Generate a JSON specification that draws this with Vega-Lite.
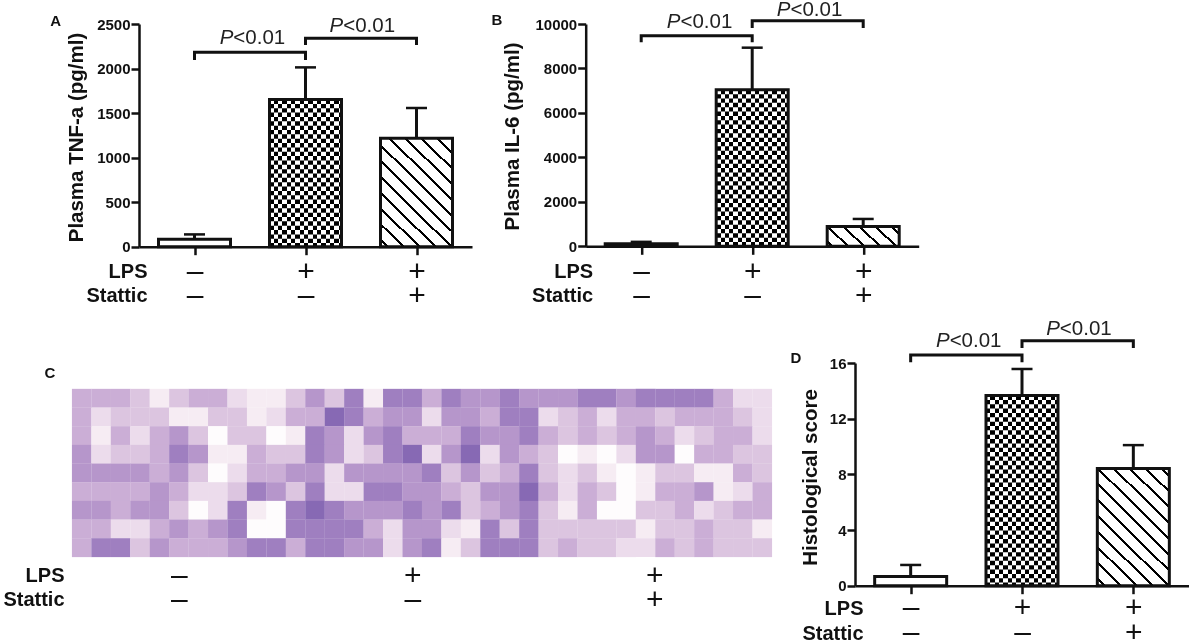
{"$schema":"https://vega.github.io/schema/vega-lite/v6.json","padding":{"left":2,"top":0,"right":0,"bottom":0},"background":"white",
"config":{"view":{"stroke":null},"font":"Liberation Sans",
"axis":{"grid":false,"labelFont":"Liberation Sans","titleFont":"Liberation Sans","labelColor":"#111","titleColor":"#111","domainColor":"#111","tickColor":"#111","domainWidth":2.5,"tickWidth":2.5,"tickSize":8}},
"vconcat":[
{"hconcat":[
{"width":333,"height":222.7,"data":{"values":[{"g":1,"v":84,"e":138},{"g":2,"v":1652,"e":2013},{"g":3,"v":1218,"e":1557}]},
"encoding":{"x":{"field":"g","type":"quantitative","scale":{"domain":[0.5,3.5],"nice":false,"padding":0},"axis":{"values":[1,2,3],"title":["LPS","Stattic"],"titleFontSize":20,"titleFontWeight":"bold","titleAlign":"right","titleBaseline":"alphabetic","titleLineHeight":24,"titleX":8,"titleY":31,"labelExpr":"datum.value==1?['–','–']:datum.value==2?['+','–']:['+','+']","labelFontSize":30,"labelLineHeight":24,"labelBaseline":"alphabetic","labelPadding":26,"labelOverlap":false,"labelFlush":false}},
"y":{"field":"v","type":"quantitative","scale":{"domain":[0,2500],"nice":false},"axis":{"values":[0,500,1000,1500,2000,2500],"format":"d","title":"Plasma TNF-a (pg/ml)","titleFontSize":20.5,"titleFontWeight":"bold","titleX":-53,"titleY":113,"labelFontSize":15,"labelFontWeight":"bold","labelPadding":1}}},
"layer":[
{"mark":{"type":"rule","strokeWidth":3,"color":"#111"},"encoding":{"y":{"field":"v","type":"quantitative"},"y2":{"field":"e"}}},
{"mark":{"type":"tick","orient":"horizontal","size":21,"thickness":2.5,"color":"#111","opacity":1},"encoding":{"y":{"field":"e","type":"quantitative"}}},
{"mark":{"type":"bar","orient":"vertical","width":72,"fill":"white"}},
{"transform":[{"filter":"datum.g==2"}],"mark":{"type":"rule","strokeWidth":72,"color":"#000","strokeDash":[4.35,4.35]},"encoding":{"y2":{"datum":0}}},
{"transform":[{"filter":"datum.g==2"}],"mark":{"type":"bar","orient":"vertical","width":72,"blend":"difference","fill":{"gradient":"linear","x1":0,"y1":0,"x2":1,"y2":0,"stops":[{"offset":0,"color":"#fff"},{"offset":0.06,"color":"#fff"},{"offset":0.06,"color":"#000"},{"offset":0.12,"color":"#000"},{"offset":0.12,"color":"#fff"},{"offset":0.18,"color":"#fff"},{"offset":0.18,"color":"#000"},{"offset":0.24,"color":"#000"},{"offset":0.24,"color":"#fff"},{"offset":0.3,"color":"#fff"},{"offset":0.3,"color":"#000"},{"offset":0.36,"color":"#000"},{"offset":0.36,"color":"#fff"},{"offset":0.42,"color":"#fff"},{"offset":0.42,"color":"#000"},{"offset":0.48,"color":"#000"},{"offset":0.48,"color":"#fff"},{"offset":0.54,"color":"#fff"},{"offset":0.54,"color":"#000"},{"offset":0.6,"color":"#000"},{"offset":0.6,"color":"#fff"},{"offset":0.66,"color":"#fff"},{"offset":0.66,"color":"#000"},{"offset":0.72,"color":"#000"},{"offset":0.72,"color":"#fff"},{"offset":0.78,"color":"#fff"},{"offset":0.78,"color":"#000"},{"offset":0.84,"color":"#000"},{"offset":0.84,"color":"#fff"},{"offset":0.9,"color":"#fff"},{"offset":0.9,"color":"#000"},{"offset":0.96,"color":"#000"},{"offset":0.96,"color":"#fff"},{"offset":1,"color":"#fff"}]}}},
{"transform":[{"filter":"datum.g==3"}],"mark":{"type":"bar","orient":"vertical","width":72,"fill":{"gradient":"linear","x1":0,"y1":1,"x2":0.7581,"y2":-0.158,"stops":[{"offset":0.03,"color":"#fff"},{"offset":0.03,"color":"#000"},{"offset":0.0465,"color":"#000"},{"offset":0.0465,"color":"#fff"},{"offset":0.1179,"color":"#fff"},{"offset":0.1179,"color":"#000"},{"offset":0.1344,"color":"#000"},{"offset":0.1344,"color":"#fff"},{"offset":0.2058,"color":"#fff"},{"offset":0.2058,"color":"#000"},{"offset":0.2223,"color":"#000"},{"offset":0.2223,"color":"#fff"},{"offset":0.2937,"color":"#fff"},{"offset":0.2937,"color":"#000"},{"offset":0.3102,"color":"#000"},{"offset":0.3102,"color":"#fff"},{"offset":0.3816,"color":"#fff"},{"offset":0.3816,"color":"#000"},{"offset":0.3981,"color":"#000"},{"offset":0.3981,"color":"#fff"},{"offset":0.4695,"color":"#fff"},{"offset":0.4695,"color":"#000"},{"offset":0.486,"color":"#000"},{"offset":0.486,"color":"#fff"},{"offset":0.5574,"color":"#fff"},{"offset":0.5574,"color":"#000"},{"offset":0.5739,"color":"#000"},{"offset":0.5739,"color":"#fff"},{"offset":0.6453,"color":"#fff"},{"offset":0.6453,"color":"#000"},{"offset":0.6618,"color":"#000"},{"offset":0.6618,"color":"#fff"},{"offset":0.7332,"color":"#fff"},{"offset":0.7332,"color":"#000"},{"offset":0.7497,"color":"#000"},{"offset":0.7497,"color":"#fff"},{"offset":0.8211,"color":"#fff"},{"offset":0.8211,"color":"#000"},{"offset":0.8376,"color":"#000"},{"offset":0.8376,"color":"#fff"},{"offset":0.909,"color":"#fff"},{"offset":0.909,"color":"#000"},{"offset":0.9255,"color":"#000"},{"offset":0.9255,"color":"#fff"}]}}},
{"mark":{"type":"bar","orient":"vertical","width":72,"fillOpacity":0,"stroke":"#111","strokeWidth":3}},
{"data":{"values":[{"b":"a","i":1,"x":1,"y":2096},{"b":"a","i":2,"x":1,"y":2182},{"b":"a","i":3,"x":2,"y":2182},{"b":"a","i":4,"x":2,"y":2096},{"b":"c","i":1,"x":2,"y":2264},{"b":"c","i":2,"x":2,"y":2339},{"b":"c","i":3,"x":3,"y":2339},{"b":"c","i":4,"x":3,"y":2264}]},"mark":{"type":"line","color":"#111","strokeWidth":3},"encoding":{"x":{"field":"x","type":"quantitative"},"y":{"field":"y","type":"quantitative"},"detail":{"field":"b"},"order":{"field":"i"}}},
{"data":{"values":[{"x":1.35,"y":2275,"t":"<0.01","p":"P"},{"x":2.34,"y":2406,"t":"<0.01","p":"P"}]},"mark":{"type":"text","align":"left","baseline":"alphabetic","fontSize":20.5,"color":"#222","font":"Liberation Sans"},"encoding":{"x":{"field":"x","type":"quantitative"},"y":{"field":"y","type":"quantitative"},"text":{"field":"t"}}},
{"data":{"values":[{"x":1.35,"y":2275,"t":"<0.01","p":"P"},{"x":2.34,"y":2406,"t":"<0.01","p":"P"}]},"mark":{"type":"text","align":"right","baseline":"alphabetic","fontSize":20.5,"fontStyle":"italic","color":"#222","font":"Liberation Sans"},"encoding":{"x":{"field":"x","type":"quantitative"},"y":{"field":"y","type":"quantitative"},"text":{"field":"p"}}},
{"data":{"values":[{"x":-0.25,"y":2534,"t":"A"}]},"mark":{"type":"text","align":"center","baseline":"middle","fontSize":15,"fontWeight":"bold","color":"#111","font":"Liberation Sans"},"encoding":{"x":{"field":"x","type":"quantitative"},"y":{"field":"y","type":"quantitative"},"text":{"field":"t"}}}
]},
{"width":333,"height":222.3,"data":{"values":[{"g":1,"v":113,"e":200},{"g":2,"v":7039,"e":8935},{"g":3,"v":893,"e":1230}]},
"encoding":{"x":{"field":"g","type":"quantitative","scale":{"domain":[0.5,3.5],"nice":false,"padding":0},"axis":{"values":[1,2,3],"title":["LPS","Stattic"],"titleFontSize":20,"titleFontWeight":"bold","titleAlign":"right","titleBaseline":"alphabetic","titleLineHeight":24,"titleX":7,"titleY":31,"labelExpr":"datum.value==1?['–','–']:datum.value==2?['+','–']:['+','+']","labelFontSize":30,"labelLineHeight":24,"labelBaseline":"alphabetic","labelPadding":26,"labelOverlap":false,"labelFlush":false}},
"y":{"field":"v","type":"quantitative","scale":{"domain":[0,10000],"nice":false},"axis":{"values":[0,2000,4000,6000,8000,10000],"format":"d","title":"Plasma IL-6 (pg/ml)","titleFontSize":20.5,"titleFontWeight":"bold","titleX":-63,"titleY":112,"labelFontSize":15,"labelFontWeight":"bold","labelPadding":1}}},
"layer":[
{"mark":{"type":"rule","strokeWidth":3,"color":"#111"},"encoding":{"y":{"field":"v","type":"quantitative"},"y2":{"field":"e"}}},
{"mark":{"type":"tick","orient":"horizontal","size":21,"thickness":2.5,"color":"#111","opacity":1},"encoding":{"y":{"field":"e","type":"quantitative"}}},
{"mark":{"type":"bar","orient":"vertical","width":72,"fill":"white"}},
{"transform":[{"filter":"datum.g==2"}],"mark":{"type":"rule","strokeWidth":72,"color":"#000","strokeDash":[4.35,4.35]},"encoding":{"y2":{"datum":0}}},
{"transform":[{"filter":"datum.g==2"}],"mark":{"type":"bar","orient":"vertical","width":72,"blend":"difference","fill":{"gradient":"linear","x1":0,"y1":0,"x2":1,"y2":0,"stops":[{"offset":0,"color":"#fff"},{"offset":0.06,"color":"#fff"},{"offset":0.06,"color":"#000"},{"offset":0.12,"color":"#000"},{"offset":0.12,"color":"#fff"},{"offset":0.18,"color":"#fff"},{"offset":0.18,"color":"#000"},{"offset":0.24,"color":"#000"},{"offset":0.24,"color":"#fff"},{"offset":0.3,"color":"#fff"},{"offset":0.3,"color":"#000"},{"offset":0.36,"color":"#000"},{"offset":0.36,"color":"#fff"},{"offset":0.42,"color":"#fff"},{"offset":0.42,"color":"#000"},{"offset":0.48,"color":"#000"},{"offset":0.48,"color":"#fff"},{"offset":0.54,"color":"#fff"},{"offset":0.54,"color":"#000"},{"offset":0.6,"color":"#000"},{"offset":0.6,"color":"#fff"},{"offset":0.66,"color":"#fff"},{"offset":0.66,"color":"#000"},{"offset":0.72,"color":"#000"},{"offset":0.72,"color":"#fff"},{"offset":0.78,"color":"#fff"},{"offset":0.78,"color":"#000"},{"offset":0.84,"color":"#000"},{"offset":0.84,"color":"#fff"},{"offset":0.9,"color":"#fff"},{"offset":0.9,"color":"#000"},{"offset":0.96,"color":"#000"},{"offset":0.96,"color":"#fff"},{"offset":1,"color":"#fff"}]}}},
{"transform":[{"filter":"datum.g==3"}],"mark":{"type":"bar","orient":"vertical","width":72,"fill":{"gradient":"linear","x1":0,"y1":1,"x2":1.1916,"y2":0.6475,"stops":[{"offset":0.04,"color":"#fff"},{"offset":0.04,"color":"#000"},{"offset":0.0722,"color":"#000"},{"offset":0.0722,"color":"#fff"},{"offset":0.2115,"color":"#fff"},{"offset":0.2115,"color":"#000"},{"offset":0.2437,"color":"#000"},{"offset":0.2437,"color":"#fff"},{"offset":0.383,"color":"#fff"},{"offset":0.383,"color":"#000"},{"offset":0.4152,"color":"#000"},{"offset":0.4152,"color":"#fff"},{"offset":0.5545,"color":"#fff"},{"offset":0.5545,"color":"#000"},{"offset":0.5867,"color":"#000"},{"offset":0.5867,"color":"#fff"},{"offset":0.726,"color":"#fff"},{"offset":0.726,"color":"#000"},{"offset":0.7582,"color":"#000"},{"offset":0.7582,"color":"#fff"},{"offset":0.8975,"color":"#fff"},{"offset":0.8975,"color":"#000"},{"offset":0.9297,"color":"#000"},{"offset":0.9297,"color":"#fff"}]}}},
{"mark":{"type":"bar","orient":"vertical","width":72,"fillOpacity":0,"stroke":"#111","strokeWidth":3}},
{"data":{"values":[{"b":"a","i":1,"x":1,"y":9175},{"b":"a","i":2,"x":1,"y":9475},{"b":"a","i":3,"x":2,"y":9475},{"b":"a","i":4,"x":2,"y":9175},{"b":"c","i":1,"x":2,"y":9820},{"b":"c","i":2,"x":2,"y":10150},{"b":"c","i":3,"x":3,"y":10150},{"b":"c","i":4,"x":3,"y":9820}]},"mark":{"type":"line","color":"#111","strokeWidth":3},"encoding":{"x":{"field":"x","type":"quantitative"},"y":{"field":"y","type":"quantitative"},"detail":{"field":"b"},"order":{"field":"i"}}},
{"data":{"values":[{"x":1.354,"y":9805,"t":"<0.01","p":"P"},{"x":2.345,"y":10345,"t":"<0.01","p":"P"}]},"mark":{"type":"text","align":"left","baseline":"alphabetic","fontSize":20.5,"color":"#222","font":"Liberation Sans"},"encoding":{"x":{"field":"x","type":"quantitative"},"y":{"field":"y","type":"quantitative"},"text":{"field":"t"}}},
{"data":{"values":[{"x":1.354,"y":9805,"t":"<0.01","p":"P"},{"x":2.345,"y":10345,"t":"<0.01","p":"P"}]},"mark":{"type":"text","align":"right","baseline":"alphabetic","fontSize":20.5,"fontStyle":"italic","color":"#222","font":"Liberation Sans"},"encoding":{"x":{"field":"x","type":"quantitative"},"y":{"field":"y","type":"quantitative"},"text":{"field":"p"}}},
{"data":{"values":[{"x":-0.3,"y":10180,"t":"B"}]},"mark":{"type":"text","align":"center","baseline":"middle","fontSize":15,"fontWeight":"bold","color":"#111","font":"Liberation Sans"},"encoding":{"x":{"field":"x","type":"quantitative"},"y":{"field":"y","type":"quantitative"},"text":{"field":"t"}}}
]}
],"spacing":18.7},
{"hconcat":[
{"width":633,"height":194,
"layer":[
{"data":{"values":[
{"c":0,"r":0,"d":4},{"c":1,"r":0,"d":4},{"c":2,"r":0,"d":4},{"c":3,"r":0,"d":3},{"c":4,"r":0,"d":1},{"c":5,"r":0,"d":3},{"c":6,"r":0,"d":4},{"c":7,"r":0,"d":4},{"c":8,"r":0,"d":2},{"c":9,"r":0,"d":1},{"c":10,"r":0,"d":1},{"c":11,"r":0,"d":3},
{"c":0,"r":1,"d":4},{"c":1,"r":1,"d":2},{"c":2,"r":1,"d":3},{"c":3,"r":1,"d":3},{"c":4,"r":1,"d":3},{"c":5,"r":1,"d":1},{"c":6,"r":1,"d":1},{"c":7,"r":1,"d":3},{"c":8,"r":1,"d":3},{"c":9,"r":1,"d":1},{"c":10,"r":1,"d":2},{"c":11,"r":1,"d":4},
{"c":0,"r":2,"d":4},{"c":1,"r":2,"d":1},{"c":2,"r":2,"d":4},{"c":3,"r":2,"d":2},{"c":4,"r":2,"d":4},{"c":5,"r":2,"d":5},{"c":6,"r":2,"d":3},{"c":7,"r":2,"d":0},{"c":8,"r":2,"d":3},{"c":9,"r":2,"d":3},{"c":10,"r":2,"d":0},{"c":11,"r":2,"d":1},
{"c":0,"r":3,"d":5},{"c":1,"r":3,"d":2},{"c":2,"r":3,"d":3},{"c":3,"r":3,"d":3},{"c":4,"r":3,"d":4},{"c":5,"r":3,"d":6},{"c":6,"r":3,"d":5},{"c":7,"r":3,"d":1},{"c":8,"r":3,"d":1},{"c":9,"r":3,"d":4},{"c":10,"r":3,"d":3},{"c":11,"r":3,"d":3},
{"c":0,"r":4,"d":5},{"c":1,"r":4,"d":5},{"c":2,"r":4,"d":5},{"c":3,"r":4,"d":5},{"c":4,"r":4,"d":4},{"c":5,"r":4,"d":5},{"c":6,"r":4,"d":3},{"c":7,"r":4,"d":0},{"c":8,"r":4,"d":2},{"c":9,"r":4,"d":4},{"c":10,"r":4,"d":4},{"c":11,"r":4,"d":5},
{"c":0,"r":5,"d":4},{"c":1,"r":5,"d":4},{"c":2,"r":5,"d":4},{"c":3,"r":5,"d":4},{"c":4,"r":5,"d":5},{"c":5,"r":5,"d":4},{"c":6,"r":5,"d":2},{"c":7,"r":5,"d":2},{"c":8,"r":5,"d":3},{"c":9,"r":5,"d":6},{"c":10,"r":5,"d":5},{"c":11,"r":5,"d":3},
{"c":0,"r":6,"d":5},{"c":1,"r":6,"d":5},{"c":2,"r":6,"d":4},{"c":3,"r":6,"d":5},{"c":4,"r":6,"d":5},{"c":5,"r":6,"d":3},{"c":6,"r":6,"d":0},{"c":7,"r":6,"d":2},{"c":8,"r":6,"d":6},{"c":9,"r":6,"d":1},{"c":10,"r":6,"d":0},{"c":11,"r":6,"d":6},
{"c":0,"r":7,"d":4},{"c":1,"r":7,"d":4},{"c":2,"r":7,"d":2},{"c":3,"r":7,"d":2},{"c":4,"r":7,"d":4},{"c":5,"r":7,"d":5},{"c":6,"r":7,"d":4},{"c":7,"r":7,"d":5},{"c":8,"r":7,"d":6},{"c":9,"r":7,"d":0},{"c":10,"r":7,"d":0},{"c":11,"r":7,"d":6},
{"c":0,"r":8,"d":4},{"c":1,"r":8,"d":6},{"c":2,"r":8,"d":6},{"c":3,"r":8,"d":3},{"c":4,"r":8,"d":5},{"c":5,"r":8,"d":4},{"c":6,"r":8,"d":4},{"c":7,"r":8,"d":4},{"c":8,"r":8,"d":5},{"c":9,"r":8,"d":6},{"c":10,"r":8,"d":6},{"c":11,"r":8,"d":4},
{"c":12,"r":0,"d":5},{"c":13,"r":0,"d":3},{"c":14,"r":0,"d":6},{"c":15,"r":0,"d":1},{"c":16,"r":0,"d":6},{"c":17,"r":0,"d":6},{"c":18,"r":0,"d":4},{"c":19,"r":0,"d":6},{"c":20,"r":0,"d":5},{"c":21,"r":0,"d":5},{"c":22,"r":0,"d":6},{"c":23,"r":0,"d":5},
{"c":12,"r":1,"d":4},{"c":13,"r":1,"d":7},{"c":14,"r":1,"d":6},{"c":15,"r":1,"d":4},{"c":16,"r":1,"d":5},{"c":17,"r":1,"d":5},{"c":18,"r":1,"d":2},{"c":19,"r":1,"d":5},{"c":20,"r":1,"d":5},{"c":21,"r":1,"d":4},{"c":22,"r":1,"d":6},{"c":23,"r":1,"d":6},
{"c":12,"r":2,"d":6},{"c":13,"r":2,"d":5},{"c":14,"r":2,"d":2},{"c":15,"r":2,"d":5},{"c":16,"r":2,"d":6},{"c":17,"r":2,"d":4},{"c":18,"r":2,"d":4},{"c":19,"r":2,"d":4},{"c":20,"r":2,"d":6},{"c":21,"r":2,"d":5},{"c":22,"r":2,"d":5},{"c":23,"r":2,"d":6},
{"c":12,"r":3,"d":6},{"c":13,"r":3,"d":5},{"c":14,"r":3,"d":2},{"c":15,"r":3,"d":3},{"c":16,"r":3,"d":6},{"c":17,"r":3,"d":7},{"c":18,"r":3,"d":2},{"c":19,"r":3,"d":5},{"c":20,"r":3,"d":7},{"c":21,"r":3,"d":2},{"c":22,"r":3,"d":5},{"c":23,"r":3,"d":4},
{"c":12,"r":4,"d":5},{"c":13,"r":4,"d":2},{"c":14,"r":4,"d":5},{"c":15,"r":4,"d":5},{"c":16,"r":4,"d":5},{"c":17,"r":4,"d":5},{"c":18,"r":4,"d":6},{"c":19,"r":4,"d":3},{"c":20,"r":4,"d":5},{"c":21,"r":4,"d":3},{"c":22,"r":4,"d":4},{"c":23,"r":4,"d":6},
{"c":12,"r":5,"d":6},{"c":13,"r":5,"d":2},{"c":14,"r":5,"d":2},{"c":15,"r":5,"d":6},{"c":16,"r":5,"d":6},{"c":17,"r":5,"d":5},{"c":18,"r":5,"d":5},{"c":19,"r":5,"d":4},{"c":20,"r":5,"d":3},{"c":21,"r":5,"d":5},{"c":22,"r":5,"d":5},{"c":23,"r":5,"d":7},
{"c":12,"r":6,"d":7},{"c":13,"r":6,"d":6},{"c":14,"r":6,"d":5},{"c":15,"r":6,"d":5},{"c":16,"r":6,"d":5},{"c":17,"r":6,"d":6},{"c":18,"r":6,"d":5},{"c":19,"r":6,"d":6},{"c":20,"r":6,"d":3},{"c":21,"r":6,"d":4},{"c":22,"r":6,"d":5},{"c":23,"r":6,"d":6},
{"c":12,"r":7,"d":6},{"c":13,"r":7,"d":6},{"c":14,"r":7,"d":6},{"c":15,"r":7,"d":4},{"c":16,"r":7,"d":2},{"c":17,"r":7,"d":5},{"c":18,"r":7,"d":5},{"c":19,"r":7,"d":2},{"c":20,"r":7,"d":1},{"c":21,"r":7,"d":6},{"c":22,"r":7,"d":3},{"c":23,"r":7,"d":6},
{"c":12,"r":8,"d":6},{"c":13,"r":8,"d":6},{"c":14,"r":8,"d":5},{"c":15,"r":8,"d":5},{"c":16,"r":8,"d":2},{"c":17,"r":8,"d":5},{"c":18,"r":8,"d":6},{"c":19,"r":8,"d":1},{"c":20,"r":8,"d":3},{"c":21,"r":8,"d":6},{"c":22,"r":8,"d":6},{"c":23,"r":8,"d":6},
{"c":24,"r":0,"d":5},{"c":25,"r":0,"d":5},{"c":26,"r":0,"d":6},{"c":27,"r":0,"d":6},{"c":28,"r":0,"d":5},{"c":29,"r":0,"d":6},{"c":30,"r":0,"d":6},{"c":31,"r":0,"d":6},{"c":32,"r":0,"d":6},{"c":33,"r":0,"d":4},{"c":34,"r":0,"d":2},{"c":35,"r":0,"d":2},
{"c":24,"r":1,"d":2},{"c":25,"r":1,"d":3},{"c":26,"r":1,"d":4},{"c":27,"r":1,"d":2},{"c":28,"r":1,"d":4},{"c":29,"r":1,"d":4},{"c":30,"r":1,"d":3},{"c":31,"r":1,"d":4},{"c":32,"r":1,"d":4},{"c":33,"r":1,"d":4},{"c":34,"r":1,"d":3},{"c":35,"r":1,"d":2},
{"c":24,"r":2,"d":4},{"c":25,"r":2,"d":3},{"c":26,"r":2,"d":4},{"c":27,"r":2,"d":3},{"c":28,"r":2,"d":4},{"c":29,"r":2,"d":5},{"c":30,"r":2,"d":4},{"c":31,"r":2,"d":2},{"c":32,"r":2,"d":3},{"c":33,"r":2,"d":4},{"c":34,"r":2,"d":4},{"c":35,"r":2,"d":2},
{"c":24,"r":3,"d":3},{"c":25,"r":3,"d":0},{"c":26,"r":3,"d":1},{"c":27,"r":3,"d":0},{"c":28,"r":3,"d":2},{"c":29,"r":3,"d":5},{"c":30,"r":3,"d":5},{"c":31,"r":3,"d":0},{"c":32,"r":3,"d":4},{"c":33,"r":3,"d":4},{"c":34,"r":3,"d":3},{"c":35,"r":3,"d":3},
{"c":24,"r":4,"d":3},{"c":25,"r":4,"d":2},{"c":26,"r":4,"d":3},{"c":27,"r":4,"d":1},{"c":28,"r":4,"d":0},{"c":29,"r":4,"d":1},{"c":30,"r":4,"d":3},{"c":31,"r":4,"d":3},{"c":32,"r":4,"d":1},{"c":33,"r":4,"d":1},{"c":34,"r":4,"d":4},{"c":35,"r":4,"d":3},
{"c":24,"r":5,"d":4},{"c":25,"r":5,"d":2},{"c":26,"r":5,"d":4},{"c":27,"r":5,"d":3},{"c":28,"r":5,"d":0},{"c":29,"r":5,"d":1},{"c":30,"r":5,"d":4},{"c":31,"r":5,"d":4},{"c":32,"r":5,"d":5},{"c":33,"r":5,"d":1},{"c":34,"r":5,"d":2},{"c":35,"r":5,"d":4},
{"c":24,"r":6,"d":3},{"c":25,"r":6,"d":1},{"c":26,"r":6,"d":4},{"c":27,"r":6,"d":0},{"c":28,"r":6,"d":0},{"c":29,"r":6,"d":3},{"c":30,"r":6,"d":3},{"c":31,"r":6,"d":4},{"c":32,"r":6,"d":2},{"c":33,"r":6,"d":3},{"c":34,"r":6,"d":4},{"c":35,"r":6,"d":4},
{"c":24,"r":7,"d":3},{"c":25,"r":7,"d":3},{"c":26,"r":7,"d":3},{"c":27,"r":7,"d":3},{"c":28,"r":7,"d":3},{"c":29,"r":7,"d":1},{"c":30,"r":7,"d":3},{"c":31,"r":7,"d":3},{"c":32,"r":7,"d":4},{"c":33,"r":7,"d":3},{"c":34,"r":7,"d":3},{"c":35,"r":7,"d":1},
{"c":24,"r":8,"d":3},{"c":25,"r":8,"d":4},{"c":26,"r":8,"d":3},{"c":27,"r":8,"d":3},{"c":28,"r":8,"d":2},{"c":29,"r":8,"d":2},{"c":30,"r":8,"d":4},{"c":31,"r":8,"d":3},{"c":32,"r":8,"d":4},{"c":33,"r":8,"d":3},{"c":34,"r":8,"d":3},{"c":35,"r":8,"d":3}
]},"mark":{"type":"rect","width":19.6,"height":18.9},"encoding":{"x":{"field":"c","type":"quantitative","scale":{"domain":[2.946,35.5],"nice":false,"zero":false,"padding":0},"axis":{"values":[5,17,29.45],"title":["LPS","Stattic"],"domain":false,"ticks":false,"tickSize":0,"titleFontSize":20,"titleFontWeight":"bold","titleAlign":"right","titleBaseline":"alphabetic","titleLineHeight":24,"titleX":-75,"titleY":24,"labelExpr":"datum.value==5?['–','–']:datum.value==17?['+','–']:['+','+']","labelFontSize":30,"labelLineHeight":24,"labelBaseline":"alphabetic","labelPadding":27,"labelOverlap":false,"labelFlush":false}},"y":{"field":"r","type":"quantitative","scale":{"domain":[8.5,-1.89],"nice":false,"zero":false,"padding":0},"axis":null},"color":{"field":"d","type":"quantitative","legend":null,"scale":{"domain":[0,2,4,6,8],"range":["#fefcfd","#ecdcec","#cbaed6","#9f7fc0","#6d55a8"]}}}},
{"data":{"values":[{"c":-1.63,"r":-1.36,"t":"C"}]},"mark":{"type":"text","align":"center","baseline":"middle","fontSize":15,"fontWeight":"bold","color":"#111","font":"Liberation Sans"},"encoding":{"x":{"field":"c","type":"quantitative"},"y":{"field":"r","type":"quantitative"},"text":{"field":"t"}}}
]},
{"width":334,"height":222.7,"data":{"values":[{"g":1,"v":0.66,"e":1.49},{"g":2,"v":13.66,"e":15.57},{"g":3,"v":8.42,"e":10.1}]},
"encoding":{"x":{"field":"g","type":"quantitative","scale":{"domain":[0.5,3.5],"nice":false,"padding":0},"axis":{"values":[1,2,3],"title":["LPS","Stattic"],"titleFontSize":20,"titleFontWeight":"bold","titleAlign":"right","titleBaseline":"alphabetic","titleLineHeight":25,"titleX":8,"titleY":28.5,"labelExpr":"datum.value==1?['–','–']:datum.value==2?['+','–']:['+','+']","labelFontSize":30,"labelLineHeight":25,"labelBaseline":"alphabetic","labelPadding":23,"labelOverlap":false,"labelFlush":false}},
"y":{"field":"v","type":"quantitative","scale":{"domain":[0,16],"nice":false},"axis":{"values":[0,4,8,12,16],"title":"Histological score","titleFontSize":20.5,"titleFontWeight":"bold","titleX":-35,"titleY":114,"labelFontSize":15,"labelFontWeight":"bold","labelPadding":1}}},
"layer":[
{"mark":{"type":"rule","strokeWidth":3,"color":"#111"},"encoding":{"y":{"field":"v","type":"quantitative"},"y2":{"field":"e"}}},
{"mark":{"type":"tick","orient":"horizontal","size":21,"thickness":2.5,"color":"#111","opacity":1},"encoding":{"y":{"field":"e","type":"quantitative"}}},
{"mark":{"type":"bar","orient":"vertical","width":72,"fill":"white"}},
{"transform":[{"filter":"datum.g==2"}],"mark":{"type":"rule","strokeWidth":72,"color":"#000","strokeDash":[4.35,4.35]},"encoding":{"y2":{"datum":0}}},
{"transform":[{"filter":"datum.g==2"}],"mark":{"type":"bar","orient":"vertical","width":72,"blend":"difference","fill":{"gradient":"linear","x1":0,"y1":0,"x2":1,"y2":0,"stops":[{"offset":0,"color":"#fff"},{"offset":0.06,"color":"#fff"},{"offset":0.06,"color":"#000"},{"offset":0.12,"color":"#000"},{"offset":0.12,"color":"#fff"},{"offset":0.18,"color":"#fff"},{"offset":0.18,"color":"#000"},{"offset":0.24,"color":"#000"},{"offset":0.24,"color":"#fff"},{"offset":0.3,"color":"#fff"},{"offset":0.3,"color":"#000"},{"offset":0.36,"color":"#000"},{"offset":0.36,"color":"#fff"},{"offset":0.42,"color":"#fff"},{"offset":0.42,"color":"#000"},{"offset":0.48,"color":"#000"},{"offset":0.48,"color":"#fff"},{"offset":0.54,"color":"#fff"},{"offset":0.54,"color":"#000"},{"offset":0.6,"color":"#000"},{"offset":0.6,"color":"#fff"},{"offset":0.66,"color":"#fff"},{"offset":0.66,"color":"#000"},{"offset":0.72,"color":"#000"},{"offset":0.72,"color":"#fff"},{"offset":0.78,"color":"#fff"},{"offset":0.78,"color":"#000"},{"offset":0.84,"color":"#000"},{"offset":0.84,"color":"#fff"},{"offset":0.9,"color":"#fff"},{"offset":0.9,"color":"#000"},{"offset":0.96,"color":"#000"},{"offset":0.96,"color":"#fff"},{"offset":1,"color":"#fff"}]}}},
{"transform":[{"filter":"datum.g==3"}],"mark":{"type":"bar","orient":"vertical","width":72,"fill":{"gradient":"linear","x1":0,"y1":1,"x2":0.7124,"y2":-0.174,"stops":[{"offset":0.03,"color":"#fff"},{"offset":0.03,"color":"#000"},{"offset":0.0457,"color":"#000"},{"offset":0.0457,"color":"#fff"},{"offset":0.1139,"color":"#fff"},{"offset":0.1139,"color":"#000"},{"offset":0.1296,"color":"#000"},{"offset":0.1296,"color":"#fff"},{"offset":0.1978,"color":"#fff"},{"offset":0.1978,"color":"#000"},{"offset":0.2135,"color":"#000"},{"offset":0.2135,"color":"#fff"},{"offset":0.2817,"color":"#fff"},{"offset":0.2817,"color":"#000"},{"offset":0.2974,"color":"#000"},{"offset":0.2974,"color":"#fff"},{"offset":0.3656,"color":"#fff"},{"offset":0.3656,"color":"#000"},{"offset":0.3813,"color":"#000"},{"offset":0.3813,"color":"#fff"},{"offset":0.4495,"color":"#fff"},{"offset":0.4495,"color":"#000"},{"offset":0.4652,"color":"#000"},{"offset":0.4652,"color":"#fff"},{"offset":0.5334,"color":"#fff"},{"offset":0.5334,"color":"#000"},{"offset":0.5491,"color":"#000"},{"offset":0.5491,"color":"#fff"},{"offset":0.6173,"color":"#fff"},{"offset":0.6173,"color":"#000"},{"offset":0.633,"color":"#000"},{"offset":0.633,"color":"#fff"},{"offset":0.7012,"color":"#fff"},{"offset":0.7012,"color":"#000"},{"offset":0.7169,"color":"#000"},{"offset":0.7169,"color":"#fff"},{"offset":0.7851,"color":"#fff"},{"offset":0.7851,"color":"#000"},{"offset":0.8008,"color":"#000"},{"offset":0.8008,"color":"#fff"},{"offset":0.869,"color":"#fff"},{"offset":0.869,"color":"#000"},{"offset":0.8847,"color":"#000"},{"offset":0.8847,"color":"#fff"},{"offset":0.9529,"color":"#fff"},{"offset":0.9529,"color":"#000"},{"offset":0.9686,"color":"#000"},{"offset":0.9686,"color":"#fff"}]}}},
{"mark":{"type":"bar","orient":"vertical","width":72,"fillOpacity":0,"stroke":"#111","strokeWidth":3}},
{"data":{"values":[{"b":"a","i":1,"x":1,"y":16.05},{"b":"a","i":2,"x":1,"y":16.57},{"b":"a","i":3,"x":2,"y":16.57},{"b":"a","i":4,"x":2,"y":16.05},{"b":"c","i":1,"x":2,"y":17.08},{"b":"c","i":2,"x":2,"y":17.6},{"b":"c","i":3,"x":3,"y":17.6},{"b":"c","i":4,"x":3,"y":17.08}]},"mark":{"type":"line","color":"#111","strokeWidth":3},"encoding":{"x":{"field":"x","type":"quantitative"},"y":{"field":"y","type":"quantitative"},"detail":{"field":"b"},"order":{"field":"i"}}},
{"data":{"values":[{"x":1.35,"y":17.13,"t":"<0.01","p":"P"},{"x":2.34,"y":18,"t":"<0.01","p":"P"}]},"mark":{"type":"text","align":"left","baseline":"alphabetic","fontSize":20.5,"color":"#222","font":"Liberation Sans"},"encoding":{"x":{"field":"x","type":"quantitative"},"y":{"field":"y","type":"quantitative"},"text":{"field":"t"}}},
{"data":{"values":[{"x":1.35,"y":17.13,"t":"<0.01","p":"P"},{"x":2.34,"y":18,"t":"<0.01","p":"P"}]},"mark":{"type":"text","align":"right","baseline":"alphabetic","fontSize":20.5,"fontStyle":"italic","color":"#222","font":"Liberation Sans"},"encoding":{"x":{"field":"x","type":"quantitative"},"y":{"field":"y","type":"quantitative"},"text":{"field":"p"}}},
{"data":{"values":[{"x":-0.03,"y":16.36,"t":"D"}]},"mark":{"type":"text","align":"center","baseline":"middle","fontSize":15,"fontWeight":"bold","color":"#111","font":"Liberation Sans"},"encoding":{"x":{"field":"x","type":"quantitative"},"y":{"field":"y","type":"quantitative"},"text":{"field":"t"}}}
]}
],"spacing":17}
],"spacing":8}
